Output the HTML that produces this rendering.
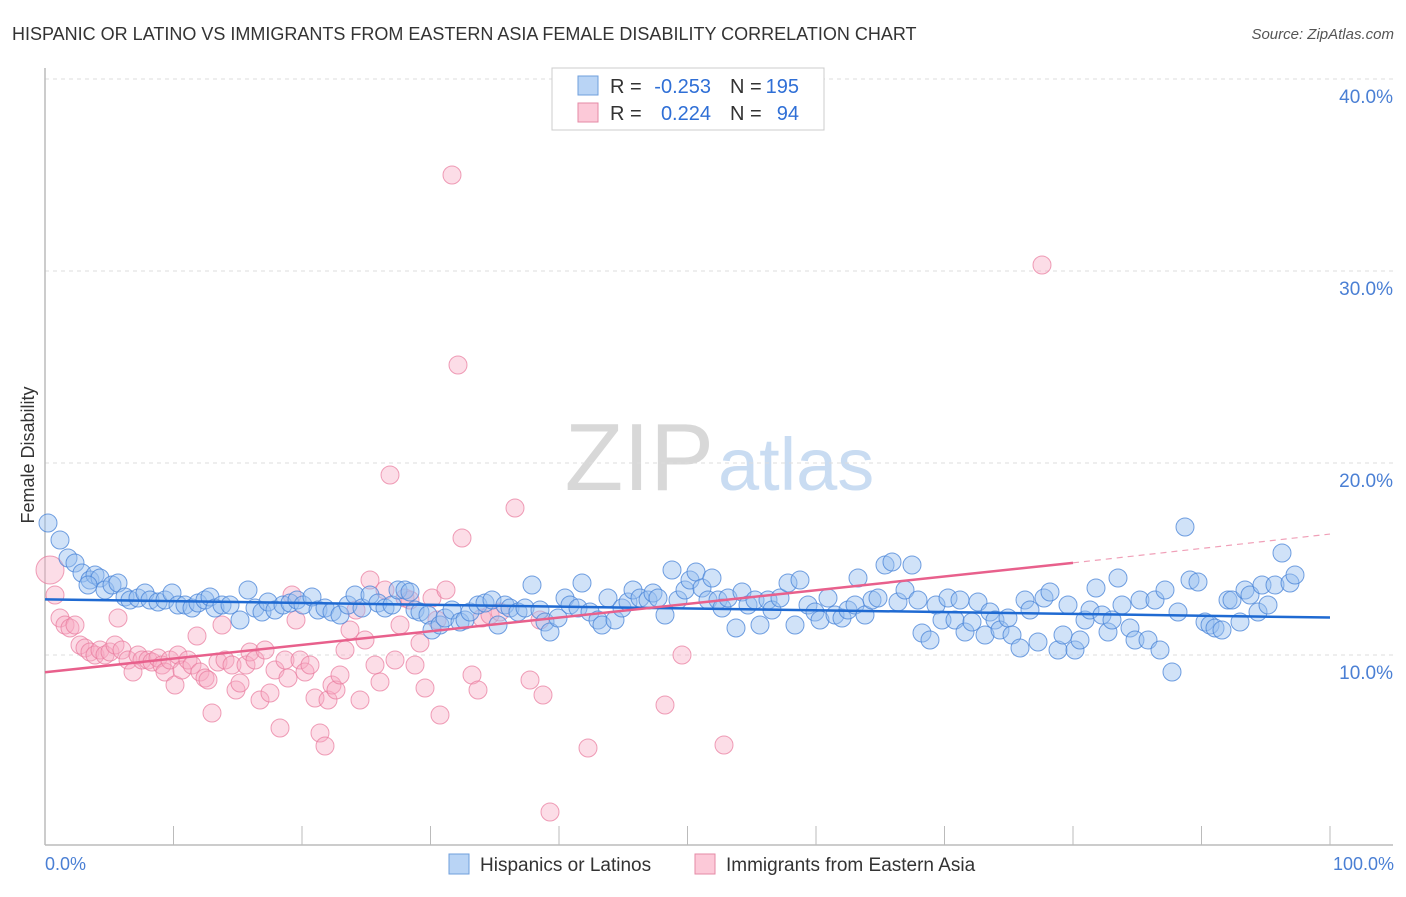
<!DOCTYPE html>
<html><head><meta charset="utf-8"><style>
body{margin:0;background:#fff;font-family:"Liberation Sans",sans-serif;}
svg text{font-family:"Liberation Sans",sans-serif;}
</style></head><body>
<svg id="chart" width="1406" height="892" xmlns="http://www.w3.org/2000/svg">
<text x="12" y="40" font-size="18" fill="#333">HISPANIC OR LATINO VS IMMIGRANTS FROM EASTERN ASIA FEMALE DISABILITY CORRELATION CHART</text>
<text x="1394" y="39" font-size="15" fill="#555" font-style="italic" text-anchor="end">Source: ZipAtlas.com</text>
<text x="714" y="490" font-size="96" fill="#d8d8d8" text-anchor="end" font-family="Liberation Serif">ZIP</text>
<text x="718" y="490" font-size="74" fill="#c9dcf2">atlas</text>
<g id="grid"></g>
<g id="pts"></g>
<g id="lines"></g>
<text transform="translate(34,455) rotate(-90)" font-size="18" fill="#333" text-anchor="middle">Female Disability</text>
<text x="45" y="870" font-size="18" fill="#4a7fd4">0.0%</text>
<text x="1394" y="870" font-size="18" fill="#4a7fd4" text-anchor="end">100.0%</text>
<g>
<rect x="449" y="854" width="20" height="20" fill="#b9d4f5" stroke="#6f9fdc"/>
<text x="480" y="871" font-size="19" fill="#333">Hispanics or Latinos</text>
<rect x="695" y="854" width="20" height="20" fill="#fcc9d8" stroke="#e58aa6"/>
<text x="726" y="871" font-size="19" fill="#333">Immigrants from Eastern Asia</text>
</g>
<g>
<rect x="552" y="68" width="272" height="62" fill="#fff" stroke="#ccc"/>
<rect x="578" y="76" width="20" height="19" fill="#b9d4f5" stroke="#6f9fdc"/>
<rect x="578" y="103" width="20" height="19" fill="#fcc9d8" stroke="#e58aa6"/>
<text x="610" y="93" font-size="20" fill="#333">R =</text>
<text x="711" y="93" font-size="20" fill="#2f6fd6" text-anchor="end">-0.253</text>
<text x="730" y="93" font-size="20" fill="#333">N =</text>
<text x="799" y="93" font-size="20" fill="#2f6fd6" text-anchor="end">195</text>
<text x="610" y="120" font-size="20" fill="#333">R =</text>
<text x="711" y="120" font-size="20" fill="#2f6fd6" text-anchor="end">0.224</text>
<text x="730" y="120" font-size="20" fill="#333">N =</text>
<text x="799" y="120" font-size="20" fill="#2f6fd6" text-anchor="end">94</text>
</g>
</svg>
<script>
const yTicks=[10,20,30,40];
const blueX=[48,60,68,75,82,90,95,100,88,105,112,118,125,130,138,145,150,158,165,172,178,185,192,198,205,210,215,222,230,240,248,255,262,268,275,283,290,297,303,312,318,325,332,340,348,355,362,370,378,385,392,398,405,410,415,420,428,432,440,445,452,460,465,470,478,485,492,498,505,510,518,525,532,540,545,550,558,565,570,578,582,590,598,602,608,615,622,628,633,640,648,653,658,665,672,678,685,690,696,702,708,712,718,722,728,736,742,748,755,760,768,772,780,788,795,800,808,815,820,828,835,842,848,855,858,865,872,878,885,892,898,905,912,918,922,930,936,942,948,955,960,965,972,978,985,990,995,1000,1008,1012,1020,1025,1030,1038,1044,1050,1058,1063,1068,1075,1080,1085,1090,1096,1102,1108,1112,1118,1122,1130,1135,1140,1148,1155,1160,1165,1172,1178,1185,1190,1198,1205,1210,1215,1222,1228,1232,1240,1245,1250,1258,1262,1268,1275,1282,1290,1295];
const blueY=[523,540,558,563,573,580,575,578,585,590,585,583,597,600,598,593,600,602,600,593,605,605,608,603,600,597,608,605,605,620,590,608,612,602,610,605,603,600,605,597,610,608,612,615,605,595,608,595,603,608,605,590,590,592,610,612,615,630,625,618,610,622,620,612,605,603,600,625,605,608,612,608,585,610,622,632,618,598,605,608,583,612,620,625,598,620,608,602,590,598,600,593,598,615,570,600,590,580,572,588,600,578,600,608,598,628,592,605,600,625,600,610,598,583,625,580,605,612,620,598,615,618,610,605,578,615,600,598,565,562,602,590,565,600,633,640,605,620,598,620,600,632,622,602,635,612,620,630,618,635,648,600,610,642,598,592,650,635,605,650,640,620,610,588,615,632,620,578,605,628,640,600,640,600,650,590,672,612,527,580,582,622,625,628,630,600,600,622,590,595,612,585,605,585,553,583,575];
const pinkX=[50,55,60,65,70,75,80,85,90,95,100,105,110,115,118,122,128,133,138,142,148,152,158,162,165,170,175,178,182,188,192,197,200,205,208,212,218,222,225,232,236,240,246,250,255,260,265,270,275,280,285,288,292,296,300,305,310,315,320,325,328,332,336,340,345,350,356,360,365,370,375,380,385,390,395,400,405,410,415,420,425,432,437,440,446,452,458,462,472,478,482,490,500,515,530,540,543,550,588,665,682,724,1042];
const pinkY=[570,595,618,625,628,625,645,648,652,655,650,655,652,645,618,650,660,672,655,660,660,662,658,665,672,660,685,655,670,660,665,636,672,678,680,713,662,625,660,665,690,683,665,652,660,700,650,693,670,728,660,678,595,620,660,672,665,698,733,746,700,685,690,675,650,630,610,700,640,580,665,682,590,475,660,625,598,600,665,643,688,598,620,715,590,175,365,538,675,690,618,615,612,508,680,620,695,812,748,705,655,745,265];
const blueTrend=[{x:0,y:12.9},{x:100,y:11.95}];
const pinkTrend=[{x:0,y:9.1},{x:80,y:14.8},{x:100,y:16.3}];
const X0=45,X1=1330,Y0=847,PY=19.2;
function sx(v){return X0+(X1-X0)*v/100;}
function sy(v){return Y0-v*PY;}
function pxToPct(px){return (px-X0)/(X1-X0)*100;}
function pyToVal(py){return (Y0-py)/PY;}
const NS="http://www.w3.org/2000/svg";
function mk(tag,attrs,parent){const e=document.createElementNS(NS,tag);for(const k in attrs)e.setAttribute(k,attrs[k]);parent.appendChild(e);return e;}
const grid=document.getElementById('grid');
yTicks.forEach(t=>{
  const l=mk('line',{x1:45,x2:1393,y1:sy(t),y2:sy(t),stroke:'#ddd','stroke-dasharray':'4,4'},grid);
  
  
  const tx=mk('text',{x:1393,y:sy(t)+24,'font-size':19,fill:'#4a7fd4','text-anchor':'end'},grid);
  tx.textContent=t.toFixed(1)+'%';
  
  
});
const ax=mk('line',{x1:45,x2:1393,y1:845,y2:845,stroke:'#bbb','stroke-width':1.5},grid);


const ay=mk('line',{x1:45,x2:45,y1:68,y2:845,stroke:'#bbb','stroke-width':1.5},grid);


for(let i=0;i<=10;i++){
  const tk=mk('line',{x1:sx(i*10),x2:sx(i*10),y1:826,y2:845,stroke:'#bbb'},grid);
  
  
}
const pts=document.getElementById('pts');
pinkX.forEach((px,i)=>{
  const v=pxToPct(px), w=pyToVal(pinkY[i]);
  const c=mk('circle',{cx:sx(v),cy:sy(w),r:i==0?14:9,fill:'rgba(248,170,195,0.4)',stroke:'rgba(232,120,155,0.7)','stroke-width':1},pts);
  
  
});
blueX.forEach((px,i)=>{
  const v=pxToPct(px), w=pyToVal(blueY[i]);
  const c=mk('circle',{cx:sx(v),cy:sy(w),r:9,fill:'rgba(150,190,240,0.45)',stroke:'rgba(70,130,215,0.75)','stroke-width':1},pts);
  
  
});
const lines=document.getElementById('lines');
const bl=mk('line',{x1:sx(blueTrend[0].x),y1:sy(blueTrend[0].y),x2:sx(blueTrend[1].x),y2:sy(blueTrend[1].y),stroke:'#1f6ad2','stroke-width':2.5},lines);


const pl=mk('line',{x1:sx(pinkTrend[0].x),y1:sy(pinkTrend[0].y),x2:sx(pinkTrend[1].x),y2:sy(pinkTrend[1].y),stroke:'#e8608c','stroke-width':2.5},lines);


const pd=mk('line',{x1:sx(pinkTrend[1].x),y1:sy(pinkTrend[1].y),x2:sx(pinkTrend[2].x),y2:sy(pinkTrend[2].y),stroke:'#f0a0b8','stroke-width':1.2,'stroke-dasharray':'6,5'},lines);


</script>
</body></html>
